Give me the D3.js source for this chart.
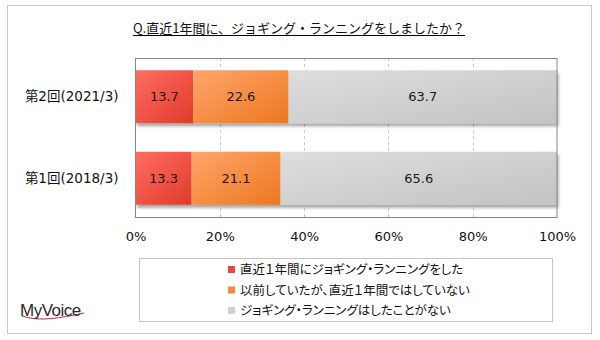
<!DOCTYPE html>
<html>
<head>
<meta charset="utf-8">
<script src="https://cdn.jsdelivr.net/npm/d3@7"></script>
<style>
  html, body { margin: 0; padding: 0; background: #fff; }
  svg { display: block; }
  .palt { font-feature-settings: "palt" 1; }
</style>
</head>
<body>
<svg id="chart" width="600" height="340"></svg>
<script>
// Survey rounds (top to bottom) and their answer shares (%)
const categories = ["第2回(2021/3)", "第1回(2018/3)"];
const seriesNames = [
  "直近１年間にジョギング・ランニングをした",
  "以前していたが、直近１年間ではしていない",
  "ジョギング・ランニングはしたことがない"
];
const didRecently = [13.7, 13.3];
const didBefore = [22.6, 21.1];
const never = [63.7, 65.6];
const tickValues = [0, 20, 40, 60, 80, 100];
const titleText = "Q.直近1年間に、ジョギング・ランニングをしましたか？";

const seriesValues = [didRecently, didBefore, never];
const gradStops = [
  ["#ff6d64", "#df3b29"],
  ["#ffa56c", "#ec781f"],
  ["#dedede", "#c3c3c3"]
];
const legendColors = ["#e9473a", "#f28a3e", "#d0d0d0"];

const svg = d3.select("#chart");
const defs = svg.append("defs");

gradStops.forEach((s, i) => {
  const g = defs.append("linearGradient")
    .attr("id", "grad" + i)
    .attr("x1", 0).attr("y1", 0).attr("x2", 1).attr("y2", 1);
  g.append("stop").attr("offset", "0%").attr("stop-color", s[0]);
  g.append("stop").attr("offset", "100%").attr("stop-color", s[1]);
});

const shadow = defs.append("filter").attr("id", "shadow")
  .attr("x", "-5%").attr("y", "-10%").attr("width", "115%").attr("height", "130%");
shadow.append("feDropShadow")
  .attr("dx", 1.5).attr("dy", 3).attr("stdDeviation", 1.5)
  .attr("flood-color", "#000").attr("flood-opacity", 0.35);

// Outer frame
svg.append("rect")
  .attr("x", 7.5).attr("y", 5.5).attr("width", 584).attr("height", 328)
  .attr("fill", "#fff").attr("stroke", "#c8c8c8");

// Title with underline
const title = svg.append("text")
  .attr("x", 299).attr("y", 33)
  .attr("text-anchor", "middle")
  .attr("font-family", "'Noto Sans CJK JP', sans-serif")
  .attr("font-size", 13)
  .attr("fill", "#111")
  .text(titleText);
const tb = title.node().getBBox();
svg.append("line")
  .attr("x1", tb.x).attr("x2", tb.x + tb.width)
  .attr("y1", 35.5).attr("y2", 35.5)
  .attr("stroke", "#000").attr("stroke-width", 1);

// Plot area
const plot = { left: 135.5, right: 557, top: 58, bottom: 217 };

const x = d3.scaleLinear().domain([0, 100]).range([plot.left, plot.right]);
const y = d3.scaleBand().domain(categories)
  .range([plot.top, plot.bottom])
  .paddingInner(0.35).paddingOuter(0.15);

// Dashed gridlines
svg.append("g").selectAll("line")
  .data(tickValues.filter(v => v > 0 && v < 100))
  .join("line")
  .attr("x1", d => Math.round(x(d)) + 0.5).attr("x2", d => Math.round(x(d)) + 0.5)
  .attr("y1", plot.top).attr("y2", plot.bottom)
  .attr("stroke", "#c8c8c8").attr("stroke-dasharray", "3,3");

// Stacked bars
const stackData = categories.map((c, i) => {
  let acc = 0;
  return seriesValues.map((vals, s) => {
    const d = { cat: c, s, v: vals[i], x0: acc, x1: acc + vals[i] };
    acc += vals[i];
    return d;
  });
});

const barGroup = svg.append("g");
stackData.forEach(row => {
  const g = barGroup.append("g").attr("filter", "url(#shadow)");
  g.selectAll("rect").data(row).join("rect")
    .attr("x", d => x(d.x0))
    .attr("y", d => y(d.cat))
    .attr("width", d => x(d.x1) - x(d.x0))
    .attr("height", y.bandwidth())
    .attr("fill", d => `url(#grad${d.s})`);
});

// Value labels inside bars
stackData.forEach(row => {
  barGroup.append("g").selectAll("text").data(row).join("text")
    .attr("x", d => (x(d.x0) + x(d.x1)) / 2)
    .attr("y", d => y(d.cat) + y.bandwidth() / 2)
    .attr("dy", "0.36em")
    .attr("text-anchor", "middle")
    .attr("font-family", "'DejaVu Sans', sans-serif")
    .attr("font-size", 13)
    .attr("fill", "#1a1a1a")
    .text(d => d.v.toFixed(1));
});

// Plot frame
svg.append("rect")
  .attr("x", plot.left).attr("y", plot.top + 0.5)
  .attr("width", plot.right - plot.left).attr("height", plot.bottom - plot.top)
  .attr("fill", "none").attr("stroke", "#868686");

// Category axis labels
const yAxis = d3.axisLeft(y).tickSize(0).tickPadding(17);
const yg = svg.append("g").attr("transform", `translate(${plot.left},0)`).call(yAxis);
yg.select(".domain").remove();
yg.selectAll("text")
  .attr("font-family", "'DejaVu Sans', 'Noto Sans CJK JP', sans-serif")
  .attr("font-size", 13.5)
  .attr("fill", "#111");

// Percentage axis
const xAxis = d3.axisBottom(x).tickValues(tickValues)
  .tickFormat(d => d + "%").tickSize(0).tickPadding(15);
const xg = svg.append("g").attr("transform", `translate(0,${plot.bottom})`).call(xAxis);
xg.select(".domain").remove();
xg.selectAll("text")
  .attr("font-family", "'DejaVu Sans', sans-serif")
  .attr("font-size", 13)
  .attr("fill", "#111");

// Legend
svg.append("rect")
  .attr("x", 139.5).attr("y", 258.5).attr("width", 413).attr("height", 63)
  .attr("fill", "#fff").attr("stroke", "#c4c4c4");
const lg = svg.append("g").selectAll("g").data(seriesNames).join("g")
  .attr("transform", (d, i) => `translate(228,${269.5 + i * 20.5})`);
lg.append("rect")
  .attr("x", 0).attr("y", -3.5).attr("width", 7).attr("height", 7)
  .attr("fill", (d, i) => legendColors[i]);
lg.append("text")
  .attr("x", 12).attr("dy", "0.36em")
  .attr("class", "palt")
  .attr("font-family", "'Noto Sans CJK JP', sans-serif")
  .attr("font-size", 12.5)
  .attr("fill", "#111")
  .text(d => d);

// MyVoice logo
const logo = svg.append("g");
logo.append("path")
  .attr("d", "M22,316 C40,322 60,318 84,313")
  .attr("fill", "none").attr("stroke", "#c0283a").attr("stroke-width", 1);
logo.append("text")
  .attr("x", 20).attr("y", 316)
  .attr("font-family", "'Liberation Sans Narrow', 'Liberation Sans', sans-serif")
  .attr("font-size", 17)
  .attr("letter-spacing", -0.5)
  .attr("fill", "#2a2a2a")
  .text("MyVoice");
</script>
</body>
</html>
